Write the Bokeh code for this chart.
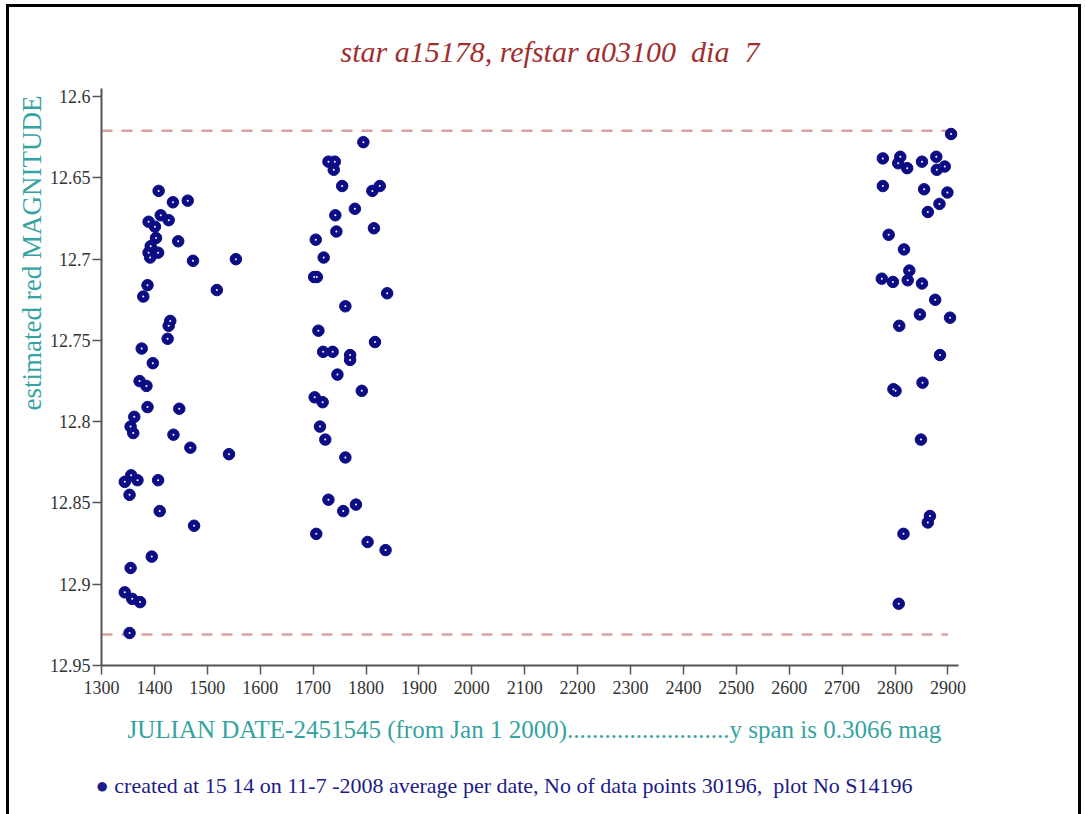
from bokeh.plotting import figure
from bokeh.models import Range1d, FixedTicker, Title
from bokeh.embed import file_html
from bokeh.resources import INLINE

# ---- data ----
julian_date = [
    1408, 1435, 1463, 1389, 1412, 1427, 1401, 1403, 1445, 1393, 1389, 1407, 1392, 1473, 1554,
    1387, 1379, 1518, 1430, 1427, 1425, 1376, 1397, 1372, 1385, 1387, 1447, 1362, 1355, 1360,
    1436, 1468, 1541, 1356, 1344, 1368, 1407, 1353, 1410, 1475, 1395, 1355, 1344, 1358, 1373, 1353,
    1795, 1729, 1741, 1739, 1755, 1826, 1812, 1779, 1742, 1744, 1815, 1705, 1720, 1702, 1707,
    1840, 1761, 1710, 1817, 1719, 1737, 1770, 1770, 1746, 1792, 1703, 1718, 1713, 1723, 1761,
    1729, 1757, 1781, 1706, 1803, 1837,
    2906, 2777, 2810, 2806, 2823, 2851, 2878, 2894, 2879, 2777, 2855, 2899, 2884, 2862, 2788,
    2817, 2827, 2775, 2796, 2824, 2851, 2876, 2847, 2904, 2808, 2885, 2852, 2797, 2801, 2849,
    2866, 2862, 2816, 2807,
]
magnitude = [
    12.658, 12.665, 12.664, 12.677, 12.673, 12.676, 12.680, 12.687, 12.689, 12.692, 12.696, 12.696,
    12.699, 12.701, 12.700, 12.716, 12.723, 12.719, 12.738, 12.741, 12.749, 12.755, 12.764, 12.775,
    12.778, 12.791, 12.792, 12.797, 12.803, 12.807, 12.808, 12.816, 12.820, 12.833, 12.837, 12.836,
    12.836, 12.845, 12.855, 12.864, 12.883, 12.890, 12.905, 12.909, 12.911, 12.930,
    12.628, 12.640, 12.640, 12.645, 12.655, 12.655, 12.658, 12.669, 12.673, 12.683, 12.681, 12.688,
    12.699, 12.711, 12.711, 12.721, 12.729, 12.744, 12.751, 12.757, 12.757, 12.759, 12.762, 12.771,
    12.781, 12.785, 12.788, 12.803, 12.811, 12.822, 12.848, 12.855, 12.851, 12.869, 12.874, 12.879,
    12.623, 12.638, 12.637, 12.641, 12.644, 12.640, 12.637, 12.643, 12.645, 12.655, 12.657, 12.659,
    12.666, 12.671, 12.685, 12.694, 12.707, 12.712, 12.714, 12.713, 12.715, 12.725, 12.734, 12.736,
    12.741, 12.759, 12.776, 12.780, 12.781, 12.811, 12.858, 12.862, 12.869, 12.912,
]
limit_lines = [12.621, 12.931]
limit_extent = [1300, 2900]

x_ticks = [1300, 1400, 1500, 1600, 1700, 1800, 1900, 2000, 2100, 2200, 2300, 2400, 2500, 2600,
           2700, 2800, 2900]
y_ticks = [12.6, 12.65, 12.7, 12.75, 12.8, 12.85, 12.9, 12.95]
y_tick_labels = ["12.6", "12.65", "12.7", "12.75", "12.8", "12.85", "12.9", "12.95"]

NB = "\u00a0"
title_text = "star a15178, refstar a03100" + NB + " dia" + NB + " 7"
y_label_text = "estimated red MAGNITUDE"
x_label_text = "JULIAN DATE-2451545 (from Jan 1 2000)" + "." * 26 + "y span is 0.3066 mag"
legend_text = ("\u25cf created at 15 14 on 11-7 -2008 average per date, "
               "No of data points 30196," + NB + " plot No S14196")

SERIF = "Liberation Serif"
TEAL = "#35a3a0"
NAVY = "#0c0c84"

p = figure(width=1075, height=810, output_backend="svg", toolbar_location=None,
           x_range=Range1d(1300, 2920), y_range=Range1d(12.95, 12.595),
           min_border_left=92, min_border_right=126, min_border_top=81, min_border_bottom=152)
p.styles = {"border-top": "3px solid black", "border-left": "3px solid black",
            "border-right": "3px solid black", "box-sizing": "border-box",
            "margin-left": "6px", "margin-top": "4px"}
p.outline_line_color = None
p.grid.visible = False
p.background_fill_color = "white"
p.border_fill_color = "white"

for ax in (p.xaxis[0], p.yaxis[0]):
    ax.axis_line_color = "#555555"
    ax.axis_line_width = 2
    ax.major_tick_line_color = "#555555"
    ax.major_tick_line_width = 1.5
    ax.major_tick_in = 0
    ax.major_tick_out = 9
    ax.minor_tick_line_color = None
    ax.major_label_text_font = SERIF
    ax.major_label_text_font_size = "18px"
    ax.major_label_text_color = "#333333"

p.xaxis.ticker = FixedTicker(ticks=x_ticks)
p.xaxis.major_label_standoff = 6
p.yaxis.ticker = FixedTicker(ticks=y_ticks)
p.yaxis.major_label_overrides = dict(zip(y_ticks, y_tick_labels))
p.yaxis.major_label_standoff = 2

# dashed min / max lines
for yv in limit_lines:
    p.line(x=limit_extent, y=[yv, yv], line_color="#d6a2a2", line_width=2.5, line_dash="11 9")

p.scatter(x=julian_date, y=magnitude, size=11.5, fill_color=NAVY, line_color=NAVY, line_width=1)
p.scatter(x=julian_date, y=magnitude, size=2, fill_color="white", line_color=None)

# main title
p.title.text = title_text
p.title.align = "left"
p.title.offset = 239
p.title.standoff = 42
p.title.text_font = SERIF
p.title.text_font_style = "italic"
p.title.text_font_size = "30px"
p.title.text_color = "#a0302f"

# y label
p.add_layout(Title(text=y_label_text, align="right", offset=7, standoff=0,
                   text_font=SERIF, text_font_style="normal", text_font_size="27px",
                   text_color=TEAL), "left")
# x label
p.add_layout(Title(text=x_label_text, align="left", offset=26, standoff=35,
                   text_font=SERIF, text_font_style="normal", text_font_size="25px",
                   text_color=TEAL), "below")
# legend line
p.add_layout(Title(text=legend_text, align="left", offset=-6, standoff=21,
                   text_font=SERIF, text_font_style="normal", text_font_size="22px",
                   text_color="#1c1c86"), "below")

open("out.html", "w").write(file_html(p, INLINE))
